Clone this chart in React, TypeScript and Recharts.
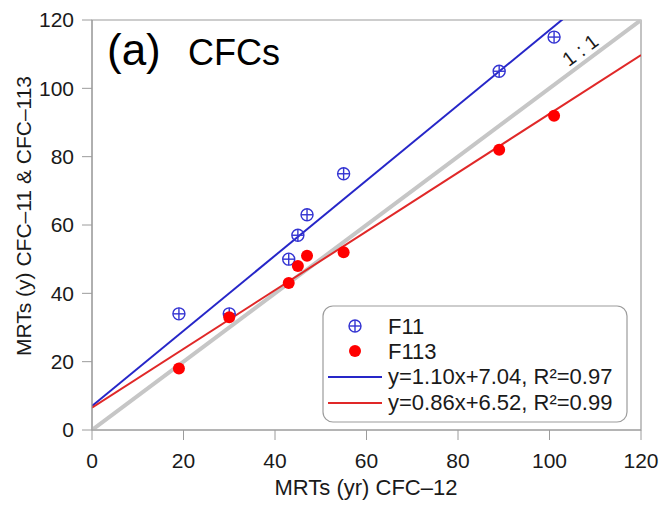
import React from 'react';
import {
  ScatterChart,
  Scatter,
  XAxis,
  YAxis,
  ReferenceLine,
  ReferenceArea,
  ReferenceDot,
} from 'recharts';

const FONT = '"Liberation Sans", Arial, Helvetica, sans-serif';
const BLUE = '#2626c8';
const MARKER_BLUE = '#3434d2';
const RED = '#ff0000';
const RED_LINE = '#e02828';
const ONE_TO_ONE = '#c6c6c6';
const AXIS = '#9c9c9c';
const TEXT = '#1a1a1a';

const W = 662;
const H = 505;

// mean residence times (years)
const cfc12 = [19, 30, 43, 45, 47, 55, 89, 101];
const cfc11 = [34, 34, 50, 57, 63, 75, 105, 115];
const cfc113 = [18, 33, 43, 48, 51, 52, 82, 92];
const axisTicks = [0, 20, 40, 60, 80, 100, 120];

const fitF11 = { slope: 1.1, intercept: 7.04, r2: 0.97 };
const fitF113 = { slope: 0.86, intercept: 6.52, r2: 0.99 };

const f11Points = cfc12.map((x, i) => ({ x, y: cfc11[i] }));
const f113Points = cfc12.map((x, i) => ({ x, y: cfc113[i] }));

const fitSegment = (fit: { slope: number; intercept: number }) => [
  { x: 0, y: fit.intercept },
  { x: 120, y: fit.intercept + fit.slope * 120 },
];

const fitLabel = (fit: { slope: number; intercept: number; r2: number }) =>
  `y=${fit.slope.toFixed(2)}x+${fit.intercept.toFixed(2)}, R\u00b2=${fit.r2.toFixed(2)}`;

const CrossCircle = ({ cx, cy, r = 6 }: { cx: number; cy: number; r?: number }) => (
  <g stroke={MARKER_BLUE} strokeWidth={1.4} fill="none">
    <circle cx={cx} cy={cy} r={r} />
    <line x1={cx - r} x2={cx + r} y1={cy} y2={cy} />
    <line x1={cx} x2={cx} y1={cy - r} y2={cy + r} />
  </g>
);

const RedDot = ({ cx, cy }: { cx: number; cy: number }) => (
  <circle cx={cx} cy={cy} r={6} fill={RED} />
);

const tickStyle = { fontSize: 21, fill: TEXT, fontFamily: FONT };

export default function App() {
  return (
    <div style={{ position: 'absolute', left: 0, top: 0, width: W, height: H, background: '#fff' }}>
      <ScatterChart width={W} height={H} margin={{ top: 20, right: 21, left: 0, bottom: 0 }}>
        <ReferenceArea x1={0} x2={120} y1={0} y2={120} fill="none" stroke={AXIS} strokeWidth={1.2} />
        <XAxis
          type="number"
          dataKey="x"
          domain={[0, 120]}
          ticks={axisTicks}
          allowDataOverflow
          height={75}
          tickSize={10}
          tickMargin={13}
          stroke={AXIS}
          tick={tickStyle}
        />
        <YAxis
          type="number"
          dataKey="y"
          domain={[0, 120]}
          ticks={axisTicks}
          allowDataOverflow
          width={92}
          tickSize={10}
          tickMargin={8}
          stroke={AXIS}
          tick={tickStyle}
        />
        <ReferenceLine
          segment={[{ x: 0, y: 0 }, { x: 120, y: 120 }]}
          stroke={ONE_TO_ONE}
          strokeWidth={4}
          ifOverflow="hidden"
        />
        <ReferenceLine segment={fitSegment(fitF11)} stroke={BLUE} strokeWidth={2} ifOverflow="hidden" />
        <ReferenceLine segment={fitSegment(fitF113)} stroke={RED_LINE} strokeWidth={2} ifOverflow="hidden" />
        <ReferenceDot
          x={106.7}
          y={111.2}
          r={0}
          shape={(p: any) => (
            <text
              x={p.cx}
              y={p.cy}
              transform={`rotate(-37 ${p.cx} ${p.cy})`}
              textAnchor="middle"
              dominantBaseline="central"
              fontSize={20}
              fontFamily={FONT}
              fill={TEXT}
            >
              1 : 1
            </text>
          )}
        />
        <Scatter
          name="F11"
          data={f11Points}
          isAnimationActive={false}
          shape={(p: any) => <CrossCircle cx={p.cx} cy={p.cy} />}
        />
        <Scatter
          name="F113"
          data={f113Points}
          isAnimationActive={false}
          shape={(p: any) => <RedDot cx={p.cx} cy={p.cy} />}
        />
      </ScatterChart>

      {/* panel title, axis title and legend */}
      <svg
        width={W}
        height={H}
        style={{ position: 'absolute', left: 0, top: 0, pointerEvents: 'none' }}
        fontFamily={FONT}
      >
        <text x={107} y={65} fontSize={44} fill="#000">(a)</text>
        <text x={188} y={65} fontSize={36} fill="#000">CFCs</text>

        <text x={366} y={495} fontSize={22} fill={TEXT} textAnchor="middle">
          MRTs (yr) CFC–12
        </text>
        <text
          transform="translate(31 216) rotate(-90)"
          fontSize={21}
          fill={TEXT}
          textAnchor="middle"
        >
          MRTs (y) CFC–11 &amp; CFC–113
        </text>

        <rect x={323} y={306} width={304} height={116} rx={10} fill="#fff" stroke={AXIS} strokeWidth={1.2} />
        <CrossCircle cx={355} cy={326} />
        <text x={388} y={334} fontSize={22} fill={TEXT}>F11</text>
        <RedDot cx={355} cy={351} />
        <text x={388} y={359} fontSize={22} fill={TEXT}>F113</text>
        <line x1={328} x2={382} y1={377} y2={377} stroke={BLUE} strokeWidth={2} />
        <text x={388} y={384} fontSize={22} fill={TEXT}>{fitLabel(fitF11)}</text>
        <line x1={328} x2={382} y1={403} y2={403} stroke={RED_LINE} strokeWidth={2} />
        <text x={388} y={410} fontSize={22} fill={TEXT}>{fitLabel(fitF113)}</text>
      </svg>
    </div>
  );
}
